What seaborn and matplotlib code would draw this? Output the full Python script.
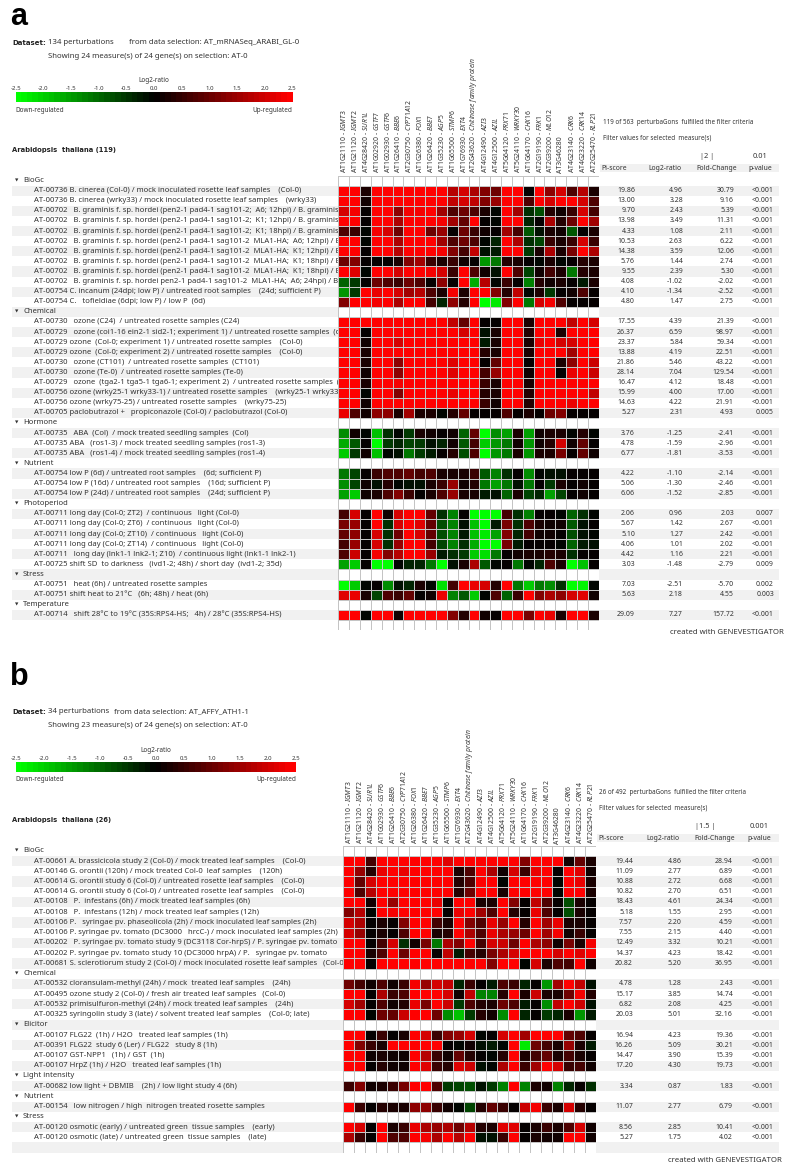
import numpy as np
import matplotlib
matplotlib.use("Agg")
from matplotlib import pyplot as plt
from matplotlib.colors import LinearSegmentedColormap, ListedColormap
import seaborn as sns

genes_a = ["AT1G21110 - IGMT3", "AT1G21120 - IGMT2", "AT4G28420 - SUR1L", "AT1G02920 - GSTF7", "AT1G02930 - GSTF6",
           "AT1G26410 - BBE6", "AT2G30750 - CYP71A12", "AT1G26380 - FOX1", "AT1G26420 - BBE7", "AT1G35230 - AGP5",
           "AT1G65500 - STMP6", "AT1G76930 - EXT4", "AT2G43620 - Chitinase family protein", "AT4G12490 - AZI3",
           "AT4G12500 - AZIL", "AT5G64120 - PRX71", "AT5G24110 - WRKY30", "AT1G64170 - CHX16", "AT2G19190 - FRK1",
           "AT2G39200 - MLO12", "AT3G46280", "AT4G23140 - CRK6", "AT4G23220 - CRK14", "AT2G25470 - RLP21"]
genes_b = [g for g in genes_a if not g.startswith("AT1G02920")]

cbar_ticks = [-2.5, -2.0, -1.5, -1.0, -0.5, 0.0, 0.5, 1.0, 1.5, 2.0, 2.5]

groups_a = [("BioGc", 12), ("Chemical", 10), ("Hormone", 3), ("Nutrient", 3), ("Photoperiod", 6), ("Stress", 2), ("Temperature", 1)]
labels_a = [
    "AT-00736 B. cinerea (Col-0) / mock inoculated rosette leaf samples    (Col-0)",
    "AT-00736 B. cinerea (wrky33) / mock inoculated rosette leaf samples    (wrky33)",
    "AT-00702   B. graminis f. sp. hordei (pen2-1 pad4-1 sag101-2;  A6; 12hpi) / B. graminis",
    "AT-00702   B. graminis f. sp. hordei (pen2-1 pad4-1 sag101-2;  K1; 12hpi) / B. graminis",
    "AT-00702   B. graminis f. sp. hordei (pen2-1 pad4-1 sag101-2;  K1; 18hpi) / B. graminis",
    "AT-00702   B. graminis f. sp. hordei (pen2-1 pad4-1 sag101-2  MLA1-HA;  A6; 12hpi) / B.",
    "AT-00702   B. graminis f. sp. hordei (pen2-1 pad4-1 sag101-2  MLA1-HA;  K1; 12hpi) / B.",
    "AT-00702   B. graminis f. sp. hordei (pen2-1 pad4-1 sag101-2  MLA1-HA;  K1; 18hpi) / B.",
    "AT-00702   B. graminis f. sp. hordei (pen2-1 pad4-1 sag101-2  MLA1-HA;  K1; 18hpi) / B.",
    "AT-00702   B. graminis f. sp. hordei pen2-1 pad4-1 sag101-2  MLA1-HA;  A6; 24hpi) / B.",
    "AT-00754 C. incanum (24dpi; low P) / untreated root samples    (24d; sufficient P)",
    "AT-00754 C.   tofieldiae (6dpi; low P) / low P  (6d)",
    "AT-00730   ozone (C24)  / untreated rosette samples (C24)",
    "AT-00729   ozone (coi1-16 ein2-1 sid2-1; experiment 1) / untreated rosette samples  (coi1",
    "AT-00729 ozone  (Col-0; experiment 1) / untreated rosette samples    (Col-0)",
    "AT-00729 ozone  (Col-0; experiment 2) / untreated rosette samples    (Col-0)",
    "AT-00730   ozone (CT101)  / untreated rosette samples  (CT101)",
    "AT-00730   ozone (Te-0)  / untreated rosette samples (Te-0)",
    "AT-00729   ozone  (tga2-1 tga5-1 tga6-1; experiment 2)  / untreated rosette samples  (tga2",
    "AT-00756 ozone (wrky25-1 wrky33-1) / untreated rosette samples    (wrky25-1 wrky33-1)",
    "AT-00756 ozone (wrky75-25) / untreated rosette samples    (wrky75-25)",
    "AT-00705 paclobutrazol +   propiconazole (Col-0) / paclobutrazol (Col-0)",
    "AT-00735   ABA  (Col)  / mock treated seedling samples  (Col)",
    "AT-00735 ABA   (ros1-3) / mock treated seedling samples (ros1-3)",
    "AT-00735 ABA   (ros1-4) / mock treated seedling samples (ros1-4)",
    "AT-00754 low P (6d) / untreated root samples    (6d; sufficient P)",
    "AT-00754 low P (16d) / untreated root samples    (16d; sufficient P)",
    "AT-00754 low P (24d) / untreated root samples    (24d; sufficient P)",
    "AT-00711 long day (Col-0; ZT2)  / continuous   light (Col-0)",
    "AT-00711 long day (Col-0; ZT6)  / continuous   light (Col-0)",
    "AT-00711 long day (Col-0; ZT10)  / continuous   light (Col-0)",
    "AT-00711 long day (Col-0; ZT14)  / continuous   light (Col-0)",
    "AT-00711   long day (lnk1-1 lnk2-1; Z10)  / continuous light (lnk1-1 lnk2-1)",
    "AT-00725 shift SD  to darkness   (ivd1-2; 48h) / short day  (ivd1-2; 35d)",
    "AT-00751   heat (6h) / untreated rosette samples",
    "AT-00751 shift heat to 21°C   (6h; 48h) / heat (6h)",
    "AT-00714   shift 28°C to 19°C (35S:RPS4-HS;   4h) / 28°C (35S:RPS4-HS)",
]
values_a = [
    [2.5,2.5,0.3,2.5,2.5,2.5,2.5,2.5,2.5,2.5,1.7,2.0,1.6,1.2,1.0,2.5,2.5,0.0,2.5,1.3,2.0,0.7,1.7,0.3],
    [2.5,2.5,0.1,2.5,2.5,2.5,2.5,2.5,2.5,2.5,1.8,2.0,1.8,1.2,1.4,2.5,2.5,0.7,2.5,2.0,2.5,2.5,2.0,0.8],
    [2.0,2.3,0.0,2.5,2.5,1.3,2.3,2.3,2.5,1.5,0.7,1.0,0.7,0.3,-0.1,2.5,1.5,-0.5,-0.8,0.4,0.1,0.5,2.0,0.6],
    [2.5,2.5,0.0,2.5,2.5,1.6,2.5,2.5,2.5,2.3,1.5,0.9,2.5,0.0,-0.1,2.5,2.5,-0.4,0.0,1.6,0.4,1.0,2.5,1.5],
    [0.8,0.5,-0.1,2.3,2.0,1.0,2.5,2.5,1.0,1.4,0.0,1.0,0.5,0.1,0.0,1.5,0.6,-0.9,-0.2,0.3,0.1,-0.9,0.0,0.2],
    [2.5,2.5,-0.1,2.5,2.5,1.6,2.5,2.5,2.5,1.5,0.7,1.0,0.7,-0.1,-0.4,2.5,1.6,-0.5,-0.7,0.5,0.2,0.5,2.0,0.5],
    [2.5,2.5,0.0,2.5,2.5,1.7,2.5,2.5,2.5,2.3,1.2,0.6,1.8,-0.2,-0.3,2.5,2.5,-0.6,0.2,1.6,0.2,1.1,2.5,1.6],
    [1.0,1.2,0.0,0.0,0.0,0.2,1.2,1.5,0.5,0.3,0.5,0.1,0.0,-1.5,-1.2,0.4,0.3,0.0,-0.1,0.2,-0.1,0.0,0.4,0.2],
    [2.5,2.1,-0.1,2.5,2.5,2.0,2.5,2.5,2.3,2.0,0.5,2.5,0.8,0.1,-0.2,2.5,0.8,-0.7,0.1,0.6,0.3,-1.1,0.4,0.2],
    [-1.0,-0.6,0.0,1.0,0.7,0.5,1.0,0.8,0.0,1.3,0.0,2.5,-1.7,1.7,-0.1,0.5,0.0,-1.3,0.4,0.1,0.2,0.0,-0.3,0.2],
    [-1.5,-0.6,2.5,2.2,2.5,2.0,1.5,1.7,0.7,0.2,2.3,0.3,2.5,2.5,1.2,0.4,1.8,-0.1,0.2,-0.6,0.0,0.1,0.8,0.0],
    [1.2,2.5,2.5,2.3,2.5,1.6,2.5,2.5,0.6,-0.4,1.3,0.4,2.5,-2.5,-2.3,1.2,2.5,-1.1,2.0,2.3,0.8,0.0,0.0,0.0],
    [2.5,2.5,2.5,2.5,2.5,2.5,2.5,2.5,2.5,2.5,1.8,0.9,2.5,0.0,0.0,2.5,2.5,0.2,2.5,2.5,2.5,1.8,2.5,2.0],
    [2.5,2.5,0.0,2.5,2.5,2.5,2.5,2.5,2.5,2.5,2.5,2.0,2.5,-0.2,0.2,2.5,2.5,0.4,2.5,2.5,0.2,2.5,2.5,2.5],
    [2.5,2.5,0.1,2.5,2.5,2.0,2.5,2.5,2.5,2.5,2.5,2.5,2.5,-0.3,0.2,2.5,2.5,0.3,2.2,2.5,2.0,2.0,2.5,2.5],
    [2.5,2.5,0.2,2.5,2.5,2.5,2.5,2.5,2.5,2.5,2.5,2.5,2.5,0.4,0.3,2.5,2.5,0.3,2.5,2.5,2.5,1.5,2.5,2.5],
    [2.5,2.5,0.2,2.5,2.5,1.3,2.5,2.5,2.5,2.5,2.1,2.5,2.5,0.0,0.9,2.5,2.5,0.0,2.5,2.5,0.2,1.3,2.5,1.9],
    [2.5,2.5,0.1,2.5,2.5,1.3,2.5,2.5,2.5,2.5,2.1,2.5,2.5,0.6,1.4,2.5,2.5,0.1,2.5,2.5,0.0,2.2,2.5,1.9],
    [2.5,2.5,0.2,2.5,2.5,2.3,2.5,2.5,2.5,2.5,2.5,2.5,2.5,0.5,0.2,2.5,2.5,0.2,2.5,2.5,2.5,2.5,2.5,2.5],
    [2.5,2.5,-0.1,2.5,2.5,1.2,2.5,2.5,2.5,2.5,2.2,2.5,2.5,0.4,0.3,2.5,2.5,0.4,2.5,2.5,2.5,2.5,2.5,1.8],
    [2.5,2.5,0.1,2.5,2.5,2.5,2.5,2.5,2.5,2.5,2.5,2.5,2.5,0.5,0.1,2.5,2.5,0.4,2.5,2.5,2.5,2.2,2.5,2.5],
    [2.2,0.8,0.1,1.3,1.3,0.2,1.5,0.3,0.3,-0.1,0.4,0.9,0.0,0.0,0.0,0.8,0.0,0.3,0.0,1.0,1.2,0.0,0.0,0.0],
    [-1.4,0.1,-0.1,-1.9,-0.5,-0.1,-0.6,0.2,0.1,0.0,0.1,-1.0,0.9,-2.5,-1.4,-1.6,0.3,-1.6,0.1,0.3,0.2,-0.1,0.4,-0.1],
    [-1.7,-0.9,0.0,-2.5,-0.6,-0.4,-0.7,-0.6,-0.2,-0.4,0.1,-0.9,0.6,-2.0,-1.5,-1.2,0.1,-1.5,0.1,0.4,2.0,0.1,0.9,0.0],
    [-2.0,-0.6,0.1,-1.9,-0.1,-0.2,-1.2,-0.6,-0.3,0.0,0.4,-0.8,0.7,-2.5,-1.5,-1.1,0.3,-1.5,0.2,0.3,1.1,0.0,0.9,0.1],
    [-1.2,-0.7,0.0,0.5,0.7,0.8,0.9,0.6,0.7,0.3,0.2,0.2,0.5,-0.9,-1.3,-0.5,0.0,-1.4,-0.1,-0.2,-0.2,0.0,0.0,0.0],
    [-1.4,-0.7,0.1,-0.2,0.4,-0.1,-0.2,-0.2,0.2,0.5,1.4,0.1,0.4,-1.1,-1.6,-1.1,-0.2,-1.1,0.0,-0.6,0.2,0.0,0.1,0.0],
    [-1.6,-2.0,0.1,0.3,0.8,1.2,0.5,0.0,0.3,0.7,1.4,0.2,0.3,-0.3,-0.2,-1.0,0.2,-0.7,-0.4,-1.6,-0.7,0.0,0.1,0.0],
    [0.6,2.0,0.0,2.5,0.1,2.0,2.5,2.5,0.9,-0.5,-1.3,0.0,-2.5,-2.5,-2.5,0.6,-0.5,-1.3,0.0,0.0,-0.1,-1.0,-0.5,-0.1],
    [1.1,1.4,0.0,2.5,-0.5,2.0,2.5,2.1,0.9,-0.8,-1.3,-0.2,-1.9,-2.5,-0.3,1.1,-0.5,0.7,0.2,0.1,0.1,-0.9,-0.2,0.0],
    [0.9,1.3,0.0,2.0,-0.5,1.0,2.5,2.0,0.9,-0.8,-1.3,-0.3,-1.9,-2.2,-1.6,1.2,-0.4,0.6,0.1,0.1,0.0,-0.8,-0.2,-0.1],
    [0.6,1.4,0.0,2.0,-0.5,1.4,2.5,2.5,0.6,-0.7,-1.3,-0.5,-1.7,-2.5,-2.5,1.1,-0.3,0.0,0.0,0.0,-0.1,-1.0,-0.3,-0.2],
    [0.7,1.9,0.0,2.3,1.2,1.7,2.5,2.5,1.4,-0.3,-0.5,-0.6,-2.0,-2.1,-1.2,0.0,0.1,0.3,0.2,0.4,0.3,-0.5,0.0,0.0],
    [-1.6,-2.0,0.0,-2.5,-2.5,-0.1,-0.4,-0.4,-1.2,-2.5,-0.2,0.3,1.6,-0.9,-0.1,0.0,-1.1,-0.1,-0.4,0.8,0.2,-2.5,-1.9,0.0],
    [-2.5,-2.0,-0.1,0.0,-1.4,-0.2,-0.4,0.2,-0.1,-2.1,0.6,2.5,2.2,2.0,0.4,2.5,-1.2,-2.0,-1.1,-1.4,-0.5,-2.5,-2.4,-0.1],
    [2.1,2.2,0.2,-0.7,0.7,0.5,0.9,0.0,0.1,2.2,-1.3,-0.9,-2.0,-0.1,0.7,-1.0,0.5,2.5,1.2,1.6,1.3,2.0,2.1,0.1],
    [2.5,2.5,-0.1,2.5,2.5,0.1,2.5,2.5,2.5,2.5,1.2,0.4,2.5,0.1,0.0,2.5,2.5,1.1,2.5,2.2,0.2,2.5,2.5,0.2],
]
pi_a = ["19.86","13.00","9.70","13.98","4.33","10.53","14.38","5.76","9.55","4.08","4.10","4.80",
        "17.55","26.37","23.37","13.88","21.86","28.14","16.47","15.99","14.63","5.27",
        "3.76","4.78","6.77","4.22","5.06","6.06","2.06","5.67","5.10","4.06","4.42","3.03","7.03","5.63","29.09"]
log2_a = ["4.96","3.28","2.43","3.49","1.08","2.63","3.59","1.44","2.39","-1.02","-1.34","1.47",
          "4.39","6.59","5.84","4.19","5.46","7.04","4.12","4.00","4.22","2.31",
          "-1.25","-1.59","-1.81","-1.10","-1.30","-1.52","0.96","1.42","1.27","1.01","1.16","-1.48","-2.51","2.18","7.27"]
fc_a = ["30.79","9.16","5.39","11.31","2.11","6.22","12.06","2.74","5.30","-2.02","-2.52","2.75",
        "21.39","98.97","59.34","22.51","43.22","129.54","18.48","17.00","21.91","4.93",
        "-2.41","-2.96","-3.53","-2.14","-2.46","-2.85","2.03","2.67","2.42","2.02","2.21","-2.79","-5.70","4.55","157.72"]
p_a = ["<0.001"]*21 + ["0.005"] + ["<0.001"]*6 + ["0.007"] + ["<0.001"]*4 + ["0.009","0.002","0.003","<0.001"]

groups_b = [("BioGc", 11), ("Chemical", 4), ("Elicitor", 4), ("Light intensity", 1), ("Nutrient", 1), ("Stress", 2)]
labels_b = [
    "AT-00661 A. brassicicola study 2 (Col-0) / mock treated leaf samples    (Col-0)",
    "AT-00146 G. orontii (120h) / mock treated Col-0  leaf samples    (120h)",
    "AT-00614 G. orontii study 6 (Col-0) / untreated rosette leaf samples    (Col-0)",
    "AT-00614 G. orontii study 6 (Col-0) / untreated rosette leaf samples    (Col-0)",
    "AT-00108   P.  infestans (6h) / mock treated leaf samples (6h)",
    "AT-00108   P.  infestans (12h) / mock treated leaf samples (12h)",
    "AT-00106 P.   syringae pv. phaseolicola (2h) / mock inoculated leaf samples (2h)",
    "AT-00106 P. syringae pv. tomato (DC3000   hrcC-) / mock inoculated leaf samples (2h)",
    "AT-00202   P. syringae pv. tomato study 9 (DC3118 Cor-hrpS) / P. syringae pv. tomato",
    "AT-00202 P. syringae pv. tomato study 10 (DC3000 hrpA) / P.   syringae pv. tomato",
    "AT-00681 S. sclerotiorum study 2 (Col-0) / mock inoculated rosette leaf samples   (Col-0)",
    "AT-00532 cloransulam-methyl (24h) / mock  treated leaf samples    (24h)",
    "AT-00495 ozone study 2 (Col-0) / fresh air treated leaf samples   (Col-0)",
    "AT-00532 primisulfuron-methyl (24h) / mock treated leaf samples    (24h)",
    "AT-00325 syringolin study 3 (late) / solvent treated leaf samples    (Col-0; late)",
    "AT-00107 FLG22  (1h) / H2O   treated leaf samples (1h)",
    "AT-00391 FLG22  study 6 (Ler) / FLG22   study 8 (1h)",
    "AT-00107 GST-NPP1   (1h) / GST  (1h)",
    "AT-00107 HrpZ (1h) / H2O   treated leaf samples (1h)",
    "AT-00682 low light + DBMIB    (2h) / low light study 4 (6h)",
    "AT-00154   low nitrogen / high  nitrogen treated rosette samples",
    "AT-00120 osmotic (early) / untreated green  tissue samples    (early)",
    "AT-00120 osmotic (late) / untreated green  tissue samples    (late)",
]
values_b = [
    [2.5,2.5,0.6,2.5,2.5,2.5,2.5,2.5,2.5,2.1,2.5,2.5,2.5,2.5,2.5,2.5,1.2,2.5,2.5,2.5,0.1,0.9,0.2],
    [2.5,1.4,0.4,2.2,2.5,2.2,2.5,2.5,2.5,2.5,0.2,0.8,2.5,1.6,0.1,2.0,0.5,2.2,2.5,0.0,2.5,2.1,0.1],
    [2.5,0.9,2.0,2.5,2.5,2.5,2.5,2.5,2.5,2.5,0.4,0.8,2.5,2.5,-0.1,2.5,2.5,2.5,2.5,-0.1,2.5,2.2,0.3],
    [2.5,0.8,1.7,2.5,2.5,2.5,2.5,2.5,2.5,2.5,0.4,1.0,2.5,2.5,0.3,2.5,2.5,2.5,2.5,-0.1,2.5,2.5,0.3],
    [2.5,2.5,0.1,2.5,1.4,2.5,2.5,2.5,2.2,0.0,2.5,2.5,0.3,0.3,2.5,1.2,0.0,1.8,0.8,0.0,-0.8,0.3,0.0],
    [1.2,1.7,-0.1,2.5,2.3,2.5,2.5,2.5,2.5,0.0,2.2,2.5,1.5,0.7,2.5,0.4,0.0,2.2,0.8,0.0,-0.8,0.2,0.0],
    [2.0,1.6,0.0,0.2,0.0,1.2,2.5,2.5,0.6,0.3,2.5,1.2,0.7,2.2,1.4,2.5,0.4,2.5,1.5,2.2,0.2,0.3,0.0],
    [2.0,1.4,0.0,0.3,0.0,0.7,2.5,2.5,0.3,0.4,2.5,1.6,0.8,2.2,1.6,1.4,1.0,2.5,1.5,2.3,0.1,0.5,0.0],
    [2.5,2.5,0.0,0.6,2.0,-0.5,0.1,1.1,-1.2,1.6,1.2,2.5,0.6,2.0,1.9,1.0,2.5,1.6,1.3,0.1,1.1,0.3,2.3],
    [2.5,2.5,0.2,0.7,2.5,1.0,2.5,2.5,0.0,1.8,-0.3,0.6,0.4,1.1,1.6,2.0,2.5,2.5,2.5,2.0,2.5,2.1,2.5],
    [2.5,2.5,0.0,2.5,2.5,2.5,2.5,2.5,2.5,2.5,2.5,2.5,2.5,1.2,2.5,2.5,-0.1,2.0,0.2,0.7,0.6,2.5,0.1],
    [1.0,0.6,0.1,0.8,0.1,0.5,2.3,1.4,2.0,1.8,-0.4,0.5,0.0,-0.3,0.7,0.5,-0.4,0.0,-1.5,1.5,2.5,1.8,-0.2],
    [2.5,2.5,0.0,1.6,0.5,0.7,2.5,2.5,2.5,2.0,0.1,1.8,-1.3,-1.3,0.4,2.5,0.2,1.9,0.2,0.2,1.0,2.3,0.4],
    [2.0,1.5,0.0,0.7,0.1,0.4,2.2,1.1,2.5,1.9,-0.6,0.7,0.4,0.3,1.0,0.8,-0.3,0.0,-1.4,1.8,2.5,1.9,-0.2],
    [2.5,2.5,-0.1,1.0,0.9,1.9,2.5,2.5,1.0,-1.4,-1.9,-0.6,0.4,0.1,-1.4,2.5,-0.4,0.0,-0.6,-0.4,0.2,-1.5,-0.3],
    [2.5,2.5,0.0,0.5,0.0,0.2,2.5,2.0,0.5,1.2,1.4,2.0,-0.1,0.0,2.0,2.5,1.5,2.5,2.5,2.5,0.9,0.8,0.0],
    [2.5,1.2,0.5,0.3,2.5,2.5,2.5,2.5,2.5,0.0,-0.1,0.1,-0.2,-0.3,-0.1,2.5,-2.2,1.0,0.6,0.2,1.4,0.2,-0.3],
    [2.5,2.5,0.1,0.2,0.1,0.1,2.5,1.7,0.5,0.1,0.9,0.4,0.0,-0.1,0.4,2.5,0.2,0.6,0.9,0.3,0.6,0.3,0.0],
    [2.5,2.5,0.0,0.4,0.1,0.1,2.5,2.1,0.5,0.4,2.1,1.9,-0.2,-0.1,1.6,2.5,0.5,1.5,2.5,2.0,0.5,0.6,0.1],
    [0.5,1.2,0.1,0.2,0.5,1.1,2.5,2.5,0.7,-0.6,-0.7,-0.8,-0.2,-0.6,-1.3,2.5,-1.3,0.2,0.1,-1.3,-0.4,0.0,-0.5],
    [2.5,0.5,0.0,0.4,0.2,0.2,1.3,1.3,0.5,0.1,-0.1,-0.7,0.4,0.9,0.5,0.0,1.9,2.3,0.5,0.2,2.0,0.4,0.0],
    [2.5,2.0,0.0,2.5,0.3,0.5,2.2,1.6,1.4,1.6,1.0,1.7,0.4,0.2,2.1,2.1,0.0,0.2,0.5,0.2,0.8,2.0,0.1],
    [1.6,0.5,0.0,2.5,0.8,0.8,2.5,2.3,1.6,2.5,1.7,2.5,-0.2,-0.2,0.5,2.5,0.0,0.3,0.1,0.1,2.5,2.5,0.1],
]
pi_b = ["19.44","11.09","10.88","10.82","18.43","5.18","7.57","7.55","12.49","14.37","20.82",
        "4.78","15.17","6.82","20.03","16.94","16.26","14.47","17.20","3.34","11.07","8.56","5.27"]
log2_b = ["4.86","2.77","2.72","2.70","4.61","1.55","2.20","2.15","3.32","4.23","5.20",
          "1.28","3.85","2.08","5.01","4.23","5.09","3.90","4.30","0.87","2.77","2.85","1.75"]
fc_b = ["28.94","6.89","6.68","6.51","24.34","2.95","4.59","4.40","10.21","18.42","36.95",
        "2.43","14.74","4.25","32.16","19.36","30.21","15.39","19.73","1.83","6.79","10.41","4.02"]
p_b = ["<0.001"]*23

W, H = 800, 1174
TXT = "#333333"
FS = 5.3
GRID = "#c4c4c4"

sns.set_theme(style="white")
plt.rcParams["font.family"] = ["Noto Sans", "DejaVu Sans"]
plt.rcParams["mathtext.fontset"] = "custom"
plt.rcParams["mathtext.rm"] = "Noto Sans"
plt.rcParams["mathtext.it"] = "Noto Sans:italic"

cmap = LinearSegmentedColormap.from_list("gv", ["#00ff00", "#000000", "#ff0000"], N=50)

fig = plt.figure(figsize=(W/100, H/100), dpi=100)
bg = fig.add_axes([0, 0, 1, 1], zorder=0)
bg.set_xlim(0, W)
bg.set_ylim(H, 0)
bg.axis("off")


def px_axes(x0, y0, x1, y1, z=1):
    return fig.add_axes([x0/W, 1-y1/H, (x1-x0)/W, (y1-y0)/H], zorder=z)


def txt(x, y, s, size=FS, ha="left", **kw):
    bg.text(x, y, s, fontsize=size, ha=ha, va="center", color=kw.pop("color", TXT), **kw)


def ital(g):
    # gene symbol after the dash is in italics
    if " - " not in g:
        return g
    a, b = g.split(" - ")
    return a + " - $\\mathit{" + b.replace(" ", "\\ ") + "}$"


def draw_panel(letter, top, ds_x, ds_txt1, ds_txt2, ds_txt3, bar, title, genes, groups, labels, values, pi, log2, fc, p, box, right, filt):
    # header texts
    txt(10, top, letter, size=22, fontweight="bold", color="black", family="Liberation Sans")
    yd = box["dataset_y"]
    txt(12, yd, "Dataset:", size=5.0, fontweight="bold", color="#222222", family="DejaVu Sans")
    txt(48, yd, ds_txt1, size=5.6)
    txt(ds_x, yd, ds_txt2, size=5.6)
    txt(48, yd+14, ds_txt3, size=5.6)
    x0, y0, x1, y1 = bar
    txt((x0+x1)/2, y0-12, "Log2-ratio", size=4.6, ha="center")
    txt(x0, y1+8, "Down-regulated", size=4.6)
    txt(x1, y1+8, "Up-regulated", size=4.6, ha="right")
    txt(12, box["title_y"], title, size=4.9, fontweight="bold", color="#222222", family="DejaVu Sans")

    # filter block on the right
    txt(right["x"], right["y"], filt[0], size=4.5)
    txt(right["x"], right["y"]+15, "Filter values for selected  measure(s)", size=4.5)
    txt(right["fc_h"]-10, right["y"]+33.5, filt[1], ha="center")
    txt(right["p_h"], right["y"]+33.5, filt[2], ha="center")

    # matrix with empty rows for the group headers and the two ends
    rows, names = [], [None]
    rows.append([np.nan]*len(genes))
    i = 0
    for g, n in groups:
        if i > 0:
            rows.append([np.nan]*len(genes))
            names.append(g)
        else:
            names[0] = g
        for r in range(n):
            rows.append(values[i+r])
            names.append(i+r)
        i += n
    rows.append([np.nan]*len(genes))
    names.append(None)
    mat = np.array(rows, dtype=float)

    hx0, hy0, hx1, hy1 = box["heat"]
    rh = (hy1-hy0)/len(rows)

    # grey bands
    bg.axhspan(hy0-11.5, hy0-3.3, xmin=right["band0"]/W, xmax=779/W, color="#f1f1f1", lw=0)
    for k in range(len(rows)):
        if k % 2 == 1:
            bg.axhspan(hy0+k*rh, hy0+(k+1)*rh, xmin=12/W, xmax=779/W, color="#f1f1f1", lw=0)

    txt(right["pi_h"], hy0-7.5, "Pi-score", size=4.9)
    txt(right["lg_h"], hy0-7.5, "Log2-ratio", size=4.9, ha="center")
    txt(right["fc_h"], hy0-7.5, "Fold-Change", size=4.9, ha="center")
    txt(right["p_h"], hy0-7.5, "p-value", size=4.9, ha="center")

    for k, nm in enumerate(names):
        yc = hy0+(k+0.5)*rh
        if nm is None:
            continue
        if isinstance(nm, str):
            bg.text(15, yc, "▼", fontsize=3.2, ha="left", va="center", color=TXT, family="DejaVu Sans")
            txt(23, yc, nm, size=5.5)
        else:
            txt(34, yc, labels[nm], size=5.5)
            txt(right["pi"], yc, pi[nm], size=5.0, ha="right")
            txt(right["lg"], yc, log2[nm], size=5.0, ha="right")
            txt(right["fc"], yc, fc[nm], size=5.0, ha="right")
            txt(right["pv"], yc, p[nm], size=5.0, ha="right")

    # heatmap: white cells first so the empty rows keep their grid
    ax = px_axes(hx0, hy0, hx1, hy1)
    cax = px_axes(x0, y0, x1, y1)
    blank = np.isnan(mat)
    sns.heatmap(np.zeros(mat.shape), mask=~blank, cmap=ListedColormap(["white"]), cbar=False,
                linewidths=0.7, linecolor=GRID, xticklabels=False, yticklabels=False, ax=ax)
    sns.heatmap(mat, vmin=-2.5, vmax=2.5, cmap=cmap, linewidths=0.7, linecolor=GRID,
                xticklabels=[ital(g) for g in genes], yticklabels=False, ax=ax, cbar_ax=cax,
                cbar_kws={"orientation": "horizontal", "ticks": cbar_ticks, "format": "%.1f"})
    ax.xaxis.tick_top()
    ax.tick_params(axis="x", length=0, pad=1.5, labelsize=4.9, rotation=90, labelcolor=TXT)
    cax.xaxis.tick_top()
    cax.tick_params(axis="x", length=0, pad=0.8, labelsize=4.4, labelcolor=TXT)
    cax.collections[0].set_edgecolor("face")
    for sp in cax.spines.values():
        sp.set_visible(False)

    txt(right["credit"], box["credit_y"], "created with GENEVESTIGATOR", size=5.6)


draw_panel("a", 17, 129, "134 perturbations", "from data selection: AT_mRNASeq_ARABI_GL-0",
           "Showing 24 measure(s) of 24 gene(s) on selection: AT-0", (15.7, 92, 292.5, 102),
           "Arabidopsis  thaliana (119)", genes_a, groups_a, labels_a, values_a, pi_a, log2_a, fc_a, p_a,
           {"dataset_y": 43, "title_y": 150, "credit_y": 633, "heat": (338.3, 175.5, 598.7, 630)},
           {"x": 602.7, "y": 123, "band0": 600, "pi_h": 601.7, "lg_h": 665, "fc_h": 716.7, "p_h": 760,
            "pi": 635, "lg": 683, "fc": 734, "pv": 774, "credit": 670},
           ("119 of 563  perturbaGons  fulfilled the filter criteria", "|2 |", "0.01"))

draw_panel("b", 677, 114, "34 perturbations", "from data selection: AT_AFFY_ATH1-1",
           "Showing 23 measure(s) of 24 gene(s) on selection: AT-0", (15.7, 762, 296, 771.7),
           "Arabidopsis  thaliana (26)", genes_b, groups_b, labels_b, values_b, pi_b, log2_b, fc_b, p_b,
           {"dataset_y": 711.7, "title_y": 820, "credit_y": 1161, "heat": (342.7, 845.7, 595.7, 1152.7)},
           {"x": 599.3, "y": 793, "band0": 597, "pi_h": 598.7, "lg_h": 663, "fc_h": 715, "p_h": 759,
            "pi": 633, "lg": 681.7, "fc": 733, "pv": 774, "credit": 668},
           ("26 of 492  perturbaGons  fulfilled the filter criteria", "|1.5 |", "0.001"))

plt.savefig("out.png", dpi=100)
